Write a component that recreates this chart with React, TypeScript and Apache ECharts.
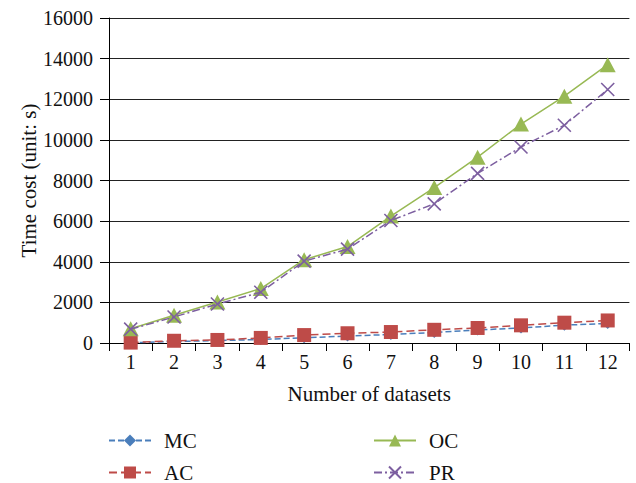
import React, { useEffect, useRef } from "react";
import * as echarts from "echarts";

// Number of datasets on the x axis
const datasets = ["1", "2", "3", "4", "5", "6", "7", "8", "9", "10", "11", "12"];

// Time cost (s) per method
const mcCost = [10, 70, 120, 170, 260, 340, 420, 520, 640, 740, 880, 960];
const acCost = [20, 110, 150, 250, 390, 480, 540, 650, 740, 870, 1000, 1110];
const ocCost = [700, 1370, 2020, 2680, 4100, 4750, 6250, 7650, 9150, 10780, 12150, 13700];
const prCost = [680, 1280, 1920, 2500, 4030, 4620, 6030, 6850, 8350, 9650, 10720, 12480];

const FONT = "'Liberation Serif', 'Times New Roman', serif";
const TICK_TEXT = { fontFamily: FONT, fontSize: 20, color: "#111" };
const NAME_TEXT = { fontFamily: FONT, fontSize: 21, color: "#111" };

const BLUE = "#4A7EBB";
const RED = "#BE4B48";
const GREEN = "#98B954";
const PURPLE = "#7D5FA0";

export default function App() {
  const ref = useRef<HTMLDivElement>(null);

  useEffect(() => {
    document.body.style.margin = "0";
    if (!ref.current) return;
    const chart = echarts.init(ref.current, null, { renderer: "svg" });

    const legendBase = {
      orient: "vertical" as const,
      top: 430,
      height: 70,
      padding: 0,
      itemWidth: 42,
      itemHeight: 15,
      itemGap: 11,
      textStyle: { ...NAME_TEXT, padding: [0, 0, 0, 8] },
    };

    chart.setOption({
      animation: false,
      backgroundColor: "#fff",
      grid: { left: 109, right: 6.6, top: 18, bottom: 140, containLabel: false },
      legend: [
        { ...legendBase, left: 108, data: ["MC", "AC"] },
        { ...legendBase, left: 373, data: ["OC", "PR"] },
      ],
      xAxis: {
        type: "category",
        data: datasets,
        boundaryGap: true,
        name: "Number of datasets",
        nameLocation: "middle",
        nameGap: 40,
        nameTextStyle: NAME_TEXT,
        axisLine: { lineStyle: { color: "#000", width: 1 } },
        axisTick: { show: true, length: 8, alignWithLabel: false, lineStyle: { color: "#000" } },
        axisLabel: { ...TICK_TEXT, margin: 9 },
        splitLine: { show: false },
      },
      yAxis: {
        type: "value",
        min: 0,
        max: 16000,
        interval: 2000,
        name: "Time cost (unit: s)",
        nameLocation: "middle",
        nameGap: 70,
        nameMoveOverlap: false,
        nameTextStyle: NAME_TEXT,
        axisLine: { show: true, lineStyle: { color: "#000", width: 1 } },
        axisTick: { show: true, length: 9, lineStyle: { color: "#000" } },
        axisLabel: { ...TICK_TEXT, margin: 16, formatter: (v: number) => String(v) },
        splitLine: { show: true, lineStyle: { color: "#222", width: 1 } },
      },
      series: [
        {
          name: "MC",
          type: "line",
          data: mcCost,
          symbol: "diamond",
          symbolSize: 11,
          itemStyle: { color: BLUE },
          lineStyle: { color: BLUE, width: 1.5, type: [6, 3] },
          z: 2,
        },
        {
          name: "AC",
          type: "line",
          data: acCost,
          symbol: "rect",
          symbolSize: 14,
          itemStyle: { color: RED },
          lineStyle: { color: RED, width: 1.5, type: [8, 4] },
          z: 3,
        },
        {
          name: "OC",
          type: "line",
          data: ocCost,
          symbol: "triangle",
          symbolSize: [16, 15],
          itemStyle: { color: GREEN },
          lineStyle: { color: GREEN, width: 1.5 },
          z: 4,
        },
        {
          name: "PR",
          type: "line",
          data: prCost,
          symbol: "path://M0,0L10,10M10,0L0,10",
          symbolSize: 13,
          itemStyle: { color: PURPLE, borderColor: PURPLE, borderWidth: 1.6 },
          lineStyle: { color: PURPLE, width: 1.5, type: [8, 3, 2, 3] },
          z: 5,
        },
      ],
    });

    return () => chart.dispose();
  }, []);

  return <div ref={ref} style={{ width: 636, height: 483 }} />;
}
